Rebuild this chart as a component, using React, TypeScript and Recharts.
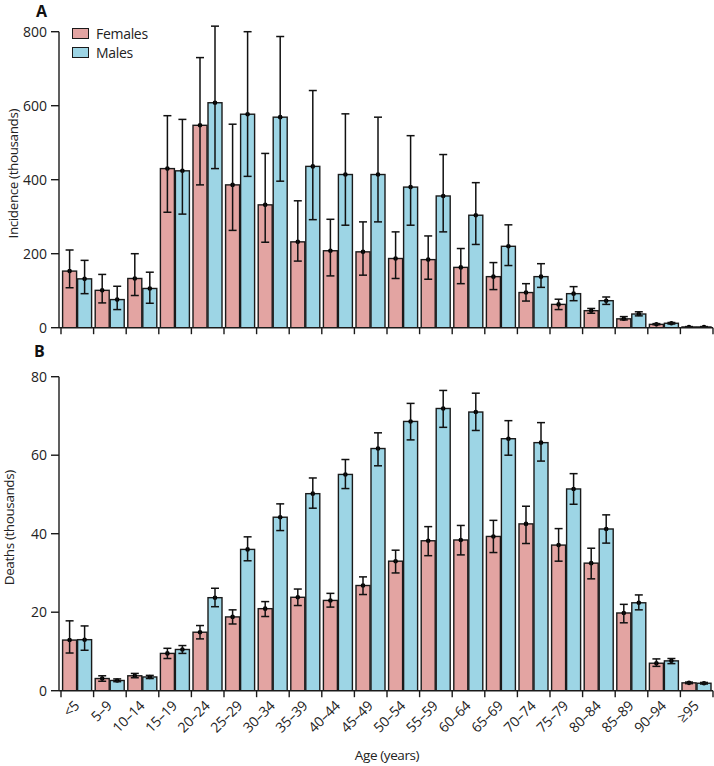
import React from "react";
import { BarChart, Bar, XAxis, YAxis, ErrorBar, Legend } from "recharts";

const ages = [
  "<5", "5–9", "10–14", "15–19", "20–24", "25–29", "30–34", "35–39", "40–44", "45–49",
  "50–54", "55–59", "60–64", "65–69", "70–74", "75–79", "80–84", "85–89", "90–94", "≥95",
];

// Panel A: incidence (thousands)
const incFemale = [153, 101, 133, 430, 547, 386, 332, 232, 208, 205, 187, 184, 163, 138, 95, 63, 46, 24, 9, 2];
const incFemaleLo = [108, 67, 87, 312, 386, 263, 231, 180, 140, 142, 133, 131, 119, 103, 72, 49, 39, 21, 8, 1.5];
const incFemaleHi = [210, 144, 200, 573, 730, 550, 471, 343, 293, 286, 259, 248, 214, 176, 119, 77, 52, 30, 11, 3];
const incMale = [132, 76, 106, 424, 608, 577, 569, 436, 414, 414, 380, 356, 304, 220, 138, 92, 73, 37, 12, 2];
const incMaleLo = [92, 49, 66, 307, 430, 409, 396, 292, 277, 286, 277, 259, 225, 168, 109, 73, 63, 32, 10, 1.5];
const incMaleHi = [182, 112, 150, 563, 815, 800, 787, 641, 578, 569, 519, 468, 392, 278, 173, 111, 83, 43, 14, 3];

// Panel B: deaths (thousands)
const deathFemale = [12.9, 3.1, 3.8, 9.5, 14.9, 18.8, 20.9, 23.8, 23.0, 26.8, 33.0, 38.2, 38.4, 39.3, 42.5, 37.1, 32.5, 19.8, 7.0, 2.0];
const deathFemaleLo = [9.6, 2.4, 3.3, 8.2, 13.2, 17.0, 18.9, 21.7, 21.3, 24.5, 30.0, 34.4, 34.6, 35.2, 37.5, 33.0, 28.5, 17.3, 6.2, 1.8];
const deathFemaleHi = [17.8, 3.8, 4.4, 10.8, 16.6, 20.6, 22.7, 25.9, 24.8, 29.0, 35.8, 41.8, 42.1, 43.4, 47.0, 41.3, 36.3, 22.0, 8.1, 2.2];
const deathMale = [13.0, 2.6, 3.5, 10.5, 23.7, 36.0, 44.2, 50.2, 55.1, 61.7, 68.6, 71.9, 71.0, 64.2, 63.2, 51.4, 41.2, 22.4, 7.6, 1.9];
const deathMaleLo = [10.3, 2.3, 3.1, 9.5, 21.4, 33.1, 40.8, 46.5, 51.5, 57.3, 63.9, 67.1, 66.3, 60.0, 58.5, 47.5, 37.6, 20.6, 6.9, 1.7];
const deathMaleHi = [16.5, 3.0, 3.9, 11.5, 26.1, 39.2, 47.6, 54.2, 58.9, 65.7, 73.2, 76.5, 75.8, 68.8, 68.3, 55.3, 44.8, 24.4, 8.2, 2.1];

const incTicks = [0, 200, 400, 600, 800];
const deathTicks = [0, 20, 40, 60, 80];

const FEMALE = "#e3a4a2";
const MALE = "#9dd5e5";
const INK = "#1a1a1a";
const FONT = "'Open Sans', Roboto, sans-serif";
const BAND = 652 / ages.length;

function buildRows(f: number[], fLo: number[], fHi: number[], m: number[], mLo: number[], mHi: number[]) {
  return ages.map((age, i) => ({
    age,
    females: f[i],
    fErr: [f[i] - fLo[i], fHi[i] - f[i]],
    males: m[i],
    mErr: [m[i] - mLo[i], mHi[i] - m[i]],
  }));
}

const incRows = buildRows(incFemale, incFemaleLo, incFemaleHi, incMale, incMaleLo, incMaleHi);
const deathRows = buildRows(deathFemale, deathFemaleLo, deathFemaleHi, deathMale, deathMaleLo, deathMaleHi);

const BarWithDot = (props: any) => {
  const { x, y, width, height, fill } = props;
  if (width == null || height == null) return null;
  return (
    <g>
      <rect x={x} y={y} width={width} height={height} fill={fill} stroke={INK} strokeWidth={1.4} />
      <circle cx={x + width / 2} cy={y} r={2.3} fill="#000" />
    </g>
  );
};

const AgeTick = (props: any) => {
  const { x, y, index, payload, showLabel } = props;
  const half = BAND / 2;
  const lx = x + 3;
  const ly = y + 16;
  return (
    <g>
      <line x1={x - half} x2={x - half} y1={y} y2={y + 6.5} stroke={INK} strokeWidth={1.4} />
      {index === ages.length - 1 && (
        <line x1={x + half} x2={x + half} y1={y} y2={y + 6.5} stroke={INK} strokeWidth={1.4} />
      )}
      {showLabel && (
        <text
          x={lx}
          y={ly}
          transform={`rotate(-45 ${lx} ${ly})`}
          textAnchor="end"
          fontSize={14}
          letterSpacing={-0.2}
          fill="#222"
          fontFamily={FONT}
        >
          {payload.value}
        </text>
      )}
    </g>
  );
};

const YTitle = (props: any) => {
  const { viewBox, value, tx } = props;
  const cy = viewBox.y + viewBox.height / 2 - 6;
  return (
    <text
      x={tx}
      y={cy}
      transform={`rotate(-90 ${tx} ${cy})`}
      textAnchor="middle"
      dominantBaseline="central"
      fontSize={13.5}
      letterSpacing={-0.4}
      fill="#222"
      fontFamily={FONT}
    >
      {value}
    </text>
  );
};

const XTitle = (props: any) => {
  const { viewBox } = props;
  return (
    <text
      x={viewBox.x + viewBox.width / 2 + 1}
      y={viewBox.y + 69}
      textAnchor="middle"
      fontSize={13.5}
      letterSpacing={-0.4}
      fill="#222"
      fontFamily={FONT}
    >
      Age (years)
    </text>
  );
};

const LegendBox = () => (
  <div style={{ fontFamily: FONT, fontSize: 14, color: "#222", lineHeight: "19px", letterSpacing: -0.3 }}>
    {[
      { label: "Females", color: FEMALE },
      { label: "Males", color: MALE },
    ].map((it) => (
      <div key={it.label} style={{ display: "flex", alignItems: "center" }}>
        <span
          style={{
            display: "inline-block",
            width: 15,
            height: 9,
            background: it.color,
            border: `1.4px solid ${INK}`,
            marginRight: 7,
          }}
        />
        {it.label}
      </div>
    ))}
  </div>
);

const yAxisProps = {
  width: 40,
  axisLine: { stroke: INK, strokeWidth: 1.4 },
  tickLine: { stroke: INK, strokeWidth: 1.4 },
  tickSize: 8,
  tickMargin: 4,
  tick: { fontSize: 14, fill: "#222", fontFamily: FONT },
  interval: 0 as const,
};

export default function App() {
  return (
    <div style={{ position: "absolute", left: 0, top: 0, width: 714, height: 766, background: "#fff" }}>
      <div style={{ position: "absolute", left: 0, top: 0 }}>
        <BarChart
          width={714}
          height={345}
          data={incRows}
          margin={{ top: 31.7, right: 1, left: 19, bottom: 7.3 }}
          barCategoryGap={1.6}
          barGap={1}
        >
          <XAxis
            dataKey="age"
            height={10}
            padding={{ left: 2, right: 0 }}
            axisLine={{ stroke: INK, strokeWidth: 1.4 }}
            tickLine={false}
            tickSize={0}
            tickMargin={0}
            interval={0}
            tick={<AgeTick showLabel={false} />}
          />
          <YAxis
            {...yAxisProps}
            domain={[0, 800]}
            ticks={incTicks}
            allowDataOverflow
            label={<YTitle value="Incidence (thousands)" tx={13} />}
          />
          <Legend
            layout="vertical"
            align="center"
            verticalAlign="middle"
            wrapperStyle={{ left: 72, top: 24, width: 120 }}
            content={<LegendBox />}
          />
          <Bar dataKey="females" fill={FEMALE} shape={<BarWithDot />} isAnimationActive={false}>
            <ErrorBar dataKey="fErr" width={4} stroke="#111" strokeWidth={1.5} direction="y" />
          </Bar>
          <Bar dataKey="males" fill={MALE} shape={<BarWithDot />} isAnimationActive={false}>
            <ErrorBar dataKey="mErr" width={4} stroke="#111" strokeWidth={1.5} direction="y" />
          </Bar>
        </BarChart>
      </div>
      <div style={{ position: "absolute", left: 0, top: 350 }}>
        <BarChart
          width={714}
          height={416}
          data={deathRows}
          margin={{ top: 26.7, right: 1, left: 19, bottom: 15.3 }}
          barCategoryGap={1.6}
          barGap={1}
        >
          <XAxis
            dataKey="age"
            height={60}
            padding={{ left: 2, right: 0 }}
            axisLine={{ stroke: INK, strokeWidth: 1.4 }}
            tickLine={false}
            tickSize={0}
            tickMargin={0}
            interval={0}
            tick={<AgeTick showLabel />}
            label={<XTitle />}
          />
          <YAxis
            {...yAxisProps}
            domain={[0, 80]}
            ticks={deathTicks}
            allowDataOverflow
            label={<YTitle value="Deaths (thousands)" tx={9} />}
          />
          <Bar dataKey="females" fill={FEMALE} shape={<BarWithDot />} isAnimationActive={false}>
            <ErrorBar dataKey="fErr" width={4} stroke="#111" strokeWidth={1.5} direction="y" />
          </Bar>
          <Bar dataKey="males" fill={MALE} shape={<BarWithDot />} isAnimationActive={false}>
            <ErrorBar dataKey="mErr" width={4} stroke="#111" strokeWidth={1.5} direction="y" />
          </Bar>
        </BarChart>
      </div>
      <svg width={714} height={766} style={{ position: "absolute", left: 0, top: 0, pointerEvents: "none" }}>
        <text x={36} y={17} fontSize={16} fontWeight="bold" fill="#111" fontFamily={FONT}>
          A
        </text>
        <text x={34} y={357} fontSize={16} fontWeight="bold" fill="#111" fontFamily={FONT}>
          B
        </text>
      </svg>
    </div>
  );
}
